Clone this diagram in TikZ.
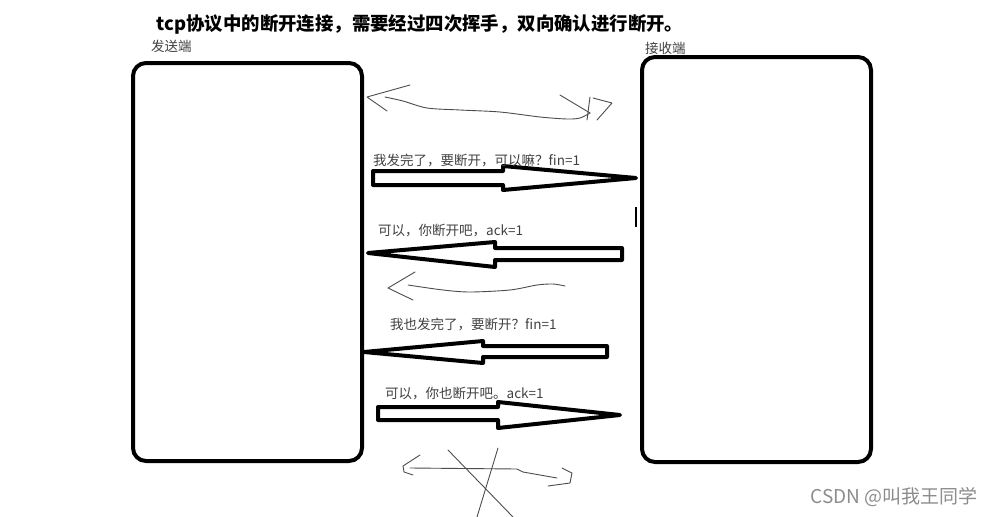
\documentclass[tikz,border=0pt]{standalone}
\usepackage{fontspec}
\setmainfont{Noto Sans CJK SC}
\usepackage{tikz}

\begin{document}
\begin{tikzpicture}[x=1pt,y=-1pt,
        box/.style={draw,line width=4pt,rounded corners=13pt,inner sep=0pt,minimum width=229pt},
        fatarrow/.style={draw,line width=4pt,fill=white,line join=round},
        scribble/.style={draw=black!70,line width=0.9pt,line cap=round,line join=round},
        msg/.style={text=black!75,font=\fontsize{13.5}{15}\selectfont,inner sep=0pt,anchor=west}]
        \useasboundingbox (0,0) rectangle (994,517);
        \node[font=\fontsize{18.4}{21}\selectfont\bfseries,inner sep=0pt] (title) at (420,24) {tcp协议中的断开连接，需要经过四次挥手，双向确认进行断开。};
        \node[box,minimum height=398pt] (sender) at (247.5,262) {};
        \node[box,minimum height=405pt] (receiver) at (756.5,259.5) {};
        \node[msg] (senderlabel) at (151,46) {发送端};
        \node[msg] (receiverlabel) at (645,48) {接收端};
        
        \draw[fatarrow](373, 171) -- (503, 171) -- (503, 166) -- (636, 178) -- (503, 190) -- (503, 185) -- (373, 185) -- cycle;
        \draw[fatarrow](622, 248) -- (495, 248) -- (495, 242) -- (368, 253) -- (495, 267) -- (495, 260) -- (622, 260) -- cycle;
        \draw[fatarrow](607, 346) -- (483, 346) -- (483, 341) -- (364, 352) -- (483, 363) -- (483, 357) -- (607, 357) -- cycle;
        \draw[fatarrow](378, 407) -- (498, 407) -- (498, 402) -- (620, 415) -- (498, 428) -- (498, 420) -- (378, 420) -- cycle;
        \draw[line width=1.5pt](636, 207) -- (636, 227);
        
        \node[msg] (fin1) at (373,160) {我发完了，要断开，可以嘛？fin=1};
        \node[msg] (ack1) at (378,231) {可以，你断开吧，ack=1};
        \node[msg] (fin2) at (390,324) {我也发完了，要断开？fin=1};
        \node[msg] (ack2) at (385,394) {可以，你也断开吧。ack=1};
        
        \draw[scribble](410, 85) -- (367, 97) -- (387, 111);
        \draw[scribble] plot[smooth] coordinates {(385, 97) (403, 101) (427, 108) (460, 110) (500, 112) (540, 117) (567, 119) (580, 118) (590, 113)};
        \draw[scribble](560, 95) -- (590, 113);
        \draw[scribble](590, 97) -- (587, 120);
        \draw[scribble](593, 98) -- (612, 103) -- (597, 120);
        
        \draw[scribble](415, 272) -- (388, 288) -- (413, 300);
        \draw[scribble] plot[smooth] coordinates {(408, 285) (443, 290) (470, 292) (510, 290) (537, 285) (553, 284) (565, 286)};
        
        \draw[scribble](420, 455) -- (403, 466) -- (404, 472) -- (413, 475);
        \draw[scribble](410, 468) -- (517, 469) -- (523, 472) -- (557, 478);
        \draw[scribble](562, 468) -- (572, 473) -- (570, 483) -- (548, 486);
        \draw[scribble](448, 450) -- (513, 517);
        \draw[scribble](498, 448) -- (477, 517);
        
        \node[text=black!45,font=\fontsize{19}{22}\selectfont,inner sep=0pt,anchor=east] (watermark) at (978,497) {CSDN @叫我王同学};
    \end{tikzpicture}
\end{document}
